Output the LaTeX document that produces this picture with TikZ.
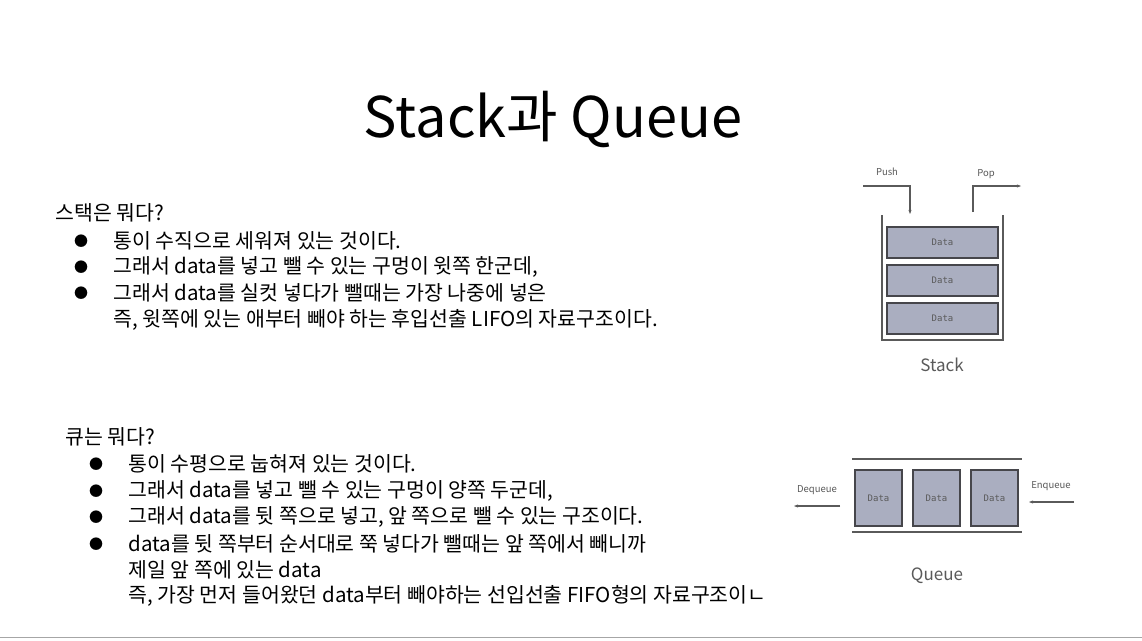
\documentclass[tikz,border=0pt]{standalone}
\usepackage{fontspec}
\setmainfont{Noto Sans CJK KR}
\newfontfamily\monofont{DejaVu Sans Mono}
\usetikzlibrary{arrows.meta}
\definecolor{boxfill}{RGB}{170, 174, 192}
\definecolor{boxline}{RGB}{70, 70, 75}
\definecolor{figgray}{RGB}{90, 90, 90}

\tikzset{
  line/.style={figgray, line width=1.2},
  databox/.style={draw=boxline, fill=boxfill, line width=1.4},
  datatext/.style={text=figgray, font=\monofont\fontsize{9}{10}\selectfont},
  smalllabel/.style={text=figgray, font=\fontsize{9.5}{11}\selectfont},
  body/.style={anchor=west, font=\fontsize{20.5}{24}\selectfont},
  arrowline/.style={line, -{Stealth[length=4, width=3]}}
}

\begin{document}
\begin{tikzpicture}[x=1pt, y=-1pt]
  \useasboundingbox[fill=white] (0, 0) rectangle (1142, 640);
  \draw[gray!70, line width=1] (0, 637) -- (1142, 637);

  \node[font=\fontsize{56}{62}\selectfont] (title) at (553, 119) {Stack과 Queue};

  % stack text
  \node[body] (sh) at (52, 213) {스택은 뭐다?};
  \foreach [count=\n] \t in {통이 수직으로 세워져 있는 것이다.,
      {그래서 data를 넣고 뺄 수 있는 구멍이 윗쪽 한군데,},
      그래서 data를 실컷 넣다가 뺄때는 가장 나중에 넣은} {
    \pgfmathsetmacro{\y}{241 + 26 * (\n - 1)}
    \node[anchor=center, font=\fontsize{14}{16}\selectfont] at (81, \y) {●};
    \node[body] (s\n) at (110, \y) {\t};
  }
  \node[body] (s4) at (110, 320) {즉, 윗쪽에 있는 애부터 빼야 하는 후입선출 LIFO의 자료구조이다.};

  % queue text
  \node[body] (qh) at (62, 437) {큐는 뭐다?};
  \foreach [count=\n] \t in {통이 수평으로 눕혀져 있는 것이다.,
      {그래서 data를 넣고 뺄 수 있는 구멍이 양쪽 두군데,},
      {그래서 data를 뒷 쪽으로 넣고, 앞 쪽으로 뺄 수 있는 구조이다.},
      data를 뒷 쪽부터 순서대로 쭉 넣다가 뺄때는 앞 쪽에서 빼니까} {
    \pgfmathsetmacro{\y}{464 + 26.7 * (\n - 1)}
    \node[anchor=center, font=\fontsize{14}{16}\selectfont] at (96, \y) {●};
    \node[body] (q\n) at (125, \y) {\t};
  }
  \node[body] (q5) at (125, 570) {제일 앞 쪽에 있는 data};
  \node[body] (q6) at (125, 596) {즉, 가장 먼저 들어왔던 data부터 빼야하는 선입선출 FIFO형의 자료구조이ㄴ};

  % stack figure
  \node[smalllabel] (push) at (887, 172) {Push};
  \node[smalllabel] (pop) at (986, 174) {Pop};
  \coordinate (pushin) at (863, 186);
  \coordinate (pushend) at (910, 214);
  \coordinate (popstart) at (973, 212);
  \coordinate (popend) at (1021, 186);
  \draw[arrowline] (pushin) -| (pushend);
  \draw[arrowline] (popstart) |- (popend);
  \draw[line] (882, 215) -- (882, 340) -- (1003, 340) -- (1003, 215);
  \foreach \n/\y in {1/227, 2/265, 3/303} {
    \draw[databox] (887, \y) rectangle ++(111, 31);
    \node[datatext] (sd\n) at (942.5, \y + 15.5) {Data};
  }
  \node[text=figgray, font=\fontsize{17}{20}\selectfont] (stacklbl) at (942, 365) {Stack};

  % queue figure
  \draw[line] (852, 459) -- (1022, 459);
  \draw[line] (852, 532) -- (1022, 532);
  \foreach \n/\x in {1/855, 2/913, 3/971} {
    \draw[databox] (\x, 470) rectangle ++(47, 56);
    \node[datatext] (qd\n) at (\x + 23.5, 498) {Data};
  }
  \node[smalllabel] (deq) at (817, 490) {Dequeue};
  \node[smalllabel] (enq) at (1051, 486) {Enqueue};
  \coordinate (deqstart) at (840, 506);
  \coordinate (deqend) at (794, 506);
  \coordinate (enqstart) at (1074, 502);
  \coordinate (enqend) at (1029, 502);
  \draw[arrowline] (deqstart) -- (deqend);
  \draw[arrowline] (enqstart) -- (enqend);
  \node[text=figgray, font=\fontsize{17}{20}\selectfont] (queuelbl) at (937, 576) {Queue};
\end{tikzpicture}
\end{document}
